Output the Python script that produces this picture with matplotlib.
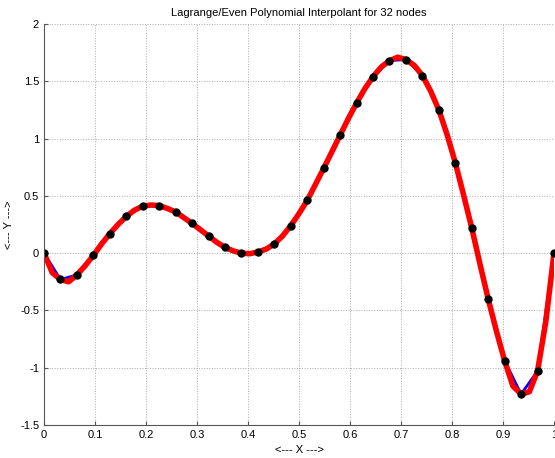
import numpy as np
import matplotlib
matplotlib.use("Agg")
import matplotlib.pyplot as plt

# nodos (32 puntos equiespaciados en [0,1]) y valores
nodos_x = [i / 31 for i in range(32)]
nodos_y = [0.00, -0.23, -0.19, -0.02, 0.17, 0.32, 0.41, 0.415, 0.36, 0.26,
           0.15, 0.05, 0.00, 0.01, 0.08, 0.24, 0.46, 0.74, 1.03, 1.31,
           1.54, 1.68, 1.69, 1.55, 1.25, 0.79, 0.22, -0.40, -0.94, -1.23,
           -1.03, 0.00]

curva_x = [i / 62 for i in range(63)]
medios_y = [-0.17, -0.25, -0.11, 0.08, 0.25, 0.375, 0.42, 0.39, 0.31, 0.205,
            0.095, 0.02, -0.005, 0.035, 0.15, 0.345, 0.60, 0.885, 1.175, 1.435,
            1.625, 1.71, 1.64, 1.415, 1.035, 0.51, -0.095, -0.68, -1.16, -1.21,
            -0.60]
curva_y = []
for i in range(31):
    curva_y += [nodos_y[i], medios_y[i]]
curva_y.append(nodos_y[31])

plt.rcParams['font.family'] = ['Liberation Sans', 'DejaVu Sans']
fig = plt.figure(figsize=(5.55, 4.58), dpi=100)
ax = fig.add_axes([44 / 555, 33 / 458, 510 / 555, 401 / 458])

ax.plot(nodos_x, nodos_y, color="#0000ff", lw=2)
ax.plot(curva_x, curva_y, color="#ff0000", lw=4, solid_capstyle="round")
ax.plot(nodos_x, nodos_y, "o", color="black", ms=5)

ax.set_xlim(0, 1)
ax.set_ylim(-1.5, 2)
ax.set_xticks(np.arange(0, 1.01, 0.1))
ax.set_xticklabels(["0", "0.1", "0.2", "0.3", "0.4", "0.5", "0.6", "0.7", "0.8", "0.9", "1"])
ax.set_yticks(np.arange(-1.5, 2.01, 0.5))
ax.set_yticklabels(["-1.5", "-1", "-0.5", "0", "0.5", "1", "1.5", "2"])
ax.grid(True, linestyle=":", color="#aaaaaa", lw=0.7)
ax.tick_params(direction="in", labelsize=8, length=3, color="#555555")
for s in ["top", "right"]:
    ax.spines[s].set_visible(False)
for s in ["left", "bottom"]:
    ax.spines[s].set_color("#555555")
ax.set_title("Lagrange/Even Polynomial Interpolant for 32 nodes", fontsize=8)
ax.set_xlabel("<--- X --->", fontsize=8)
ax.set_ylabel("<--- Y --->", fontsize=8)

fig.savefig("out.png", dpi=100)
